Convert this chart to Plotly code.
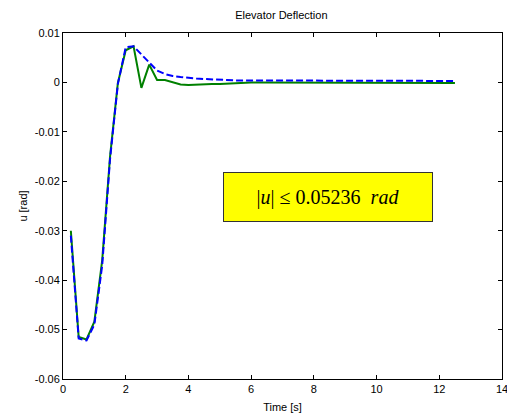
import plotly.graph_objects as go

time_s = [0.25 * (i + 1) for i in range(50)]
u_nonlinear = [-0.0300, -0.0515, -0.0520, -0.0484, -0.0360, -0.0150, -0.0001, 0.0065,
               0.0073, -0.0011, 0.0036, 0.0005, 0.0005, 0.0001, -0.0004, -0.0005,
               -0.0004, -0.0004, -0.0003, -0.0003, -0.0002, -0.0001, -0.0001, 0.0000,
               0.0000, 0.0000, -0.0001, -0.0001, -0.0001, -0.0001, -0.0001, -0.0001,
               -0.0001, -0.0001, -0.0001, -0.0001, -0.0001, -0.0001, -0.0001, -0.0001,
               -0.0001, -0.0001, -0.0001, -0.0001, -0.0001, -0.0001, -0.0001, -0.0001,
               -0.0001, -0.0001]
u_linear = [-0.0310, -0.0518, -0.0522, -0.0490, -0.0370, -0.0155, -0.0003, 0.0071,
            0.0073, 0.0056, 0.0039, 0.0024, 0.0017, 0.0013, 0.0011, 0.0009,
            0.0008, 0.0007, 0.0006, 0.0005, 0.0005, 0.0004, 0.0004, 0.0004,
            0.0004, 0.0003, 0.0003, 0.0003, 0.0003, 0.0003, 0.0003, 0.0003,
            0.0003, 0.0003, 0.0003, 0.0003, 0.0003, 0.0003, 0.0003, 0.0003,
            0.0003, 0.0003, 0.0003, 0.0003, 0.0003, 0.0003, 0.0003, 0.0003,
            0.0003, 0.0003]
x_ticks = [0, 2, 4, 6, 8, 10, 12, 14]
y_ticks = [0.01, 0, -0.01, -0.02, -0.03, -0.04, -0.05, -0.06]
y_tick_labels = ["0.01", "0", "-0.01", "-0.02", "-0.03", "-0.04", "-0.05", "-0.06"]

fig = go.Figure()
fig.add_trace(go.Scatter(x=time_s, y=u_nonlinear, mode="lines",
                         line=dict(color="#008000", width=2)))
fig.add_trace(go.Scatter(x=time_s, y=u_linear, mode="lines",
                         line=dict(color="#0000ff", width=2, dash="7px,3px")))

axis_common = dict(showline=True, linecolor="black", linewidth=1, mirror="allticks",
                   ticks="inside", ticklen=4, tickcolor="black", showgrid=False,
                   zeroline=False, automargin=False, ticklabeloverflow="allow",
                   tickfont=dict(family="Liberation Sans, Arial", size=11, color="black"))

fig.update_layout(
    width=507, height=419,
    margin=dict(l=63, r=5, t=33, b=40),
    paper_bgcolor="white", plot_bgcolor="white",
    showlegend=False,
    title=dict(text="Elevator Deflection", x=0.555, xanchor="center", y=0.965, yanchor="middle",
               font=dict(family="Liberation Sans, Arial", size=11, color="black")),
    xaxis=dict(range=[0, 14], tickvals=x_ticks,
               title=dict(text="Time [s]", standoff=9,
                          font=dict(family="Liberation Sans, Arial", size=11, color="black")),
               **axis_common),
    yaxis=dict(range=[-0.06, 0.01], tickvals=y_ticks, ticktext=y_tick_labels,
               title=dict(text="u [rad]", standoff=4,
                          font=dict(family="Liberation Sans, Arial", size=11, color="black")),
               **axis_common),
)

fig.add_annotation(
    x=8.45, y=-0.0231, xref="x", yref="y", showarrow=False,
    text="|<i>u</i>| ≤ 0.05236 &nbsp;<i>rad</i>",
    font=dict(family="Liberation Serif, Times New Roman", size=20, color="black"),
    bgcolor="#ffff00", bordercolor="#333333", borderwidth=1, borderpad=1,
    width=206, height=46,
)

fig.write_html("out.html", config={"displayModeBar": False},
               post_script="document.body.style.margin='0';document.body.style.overflow='hidden';")
